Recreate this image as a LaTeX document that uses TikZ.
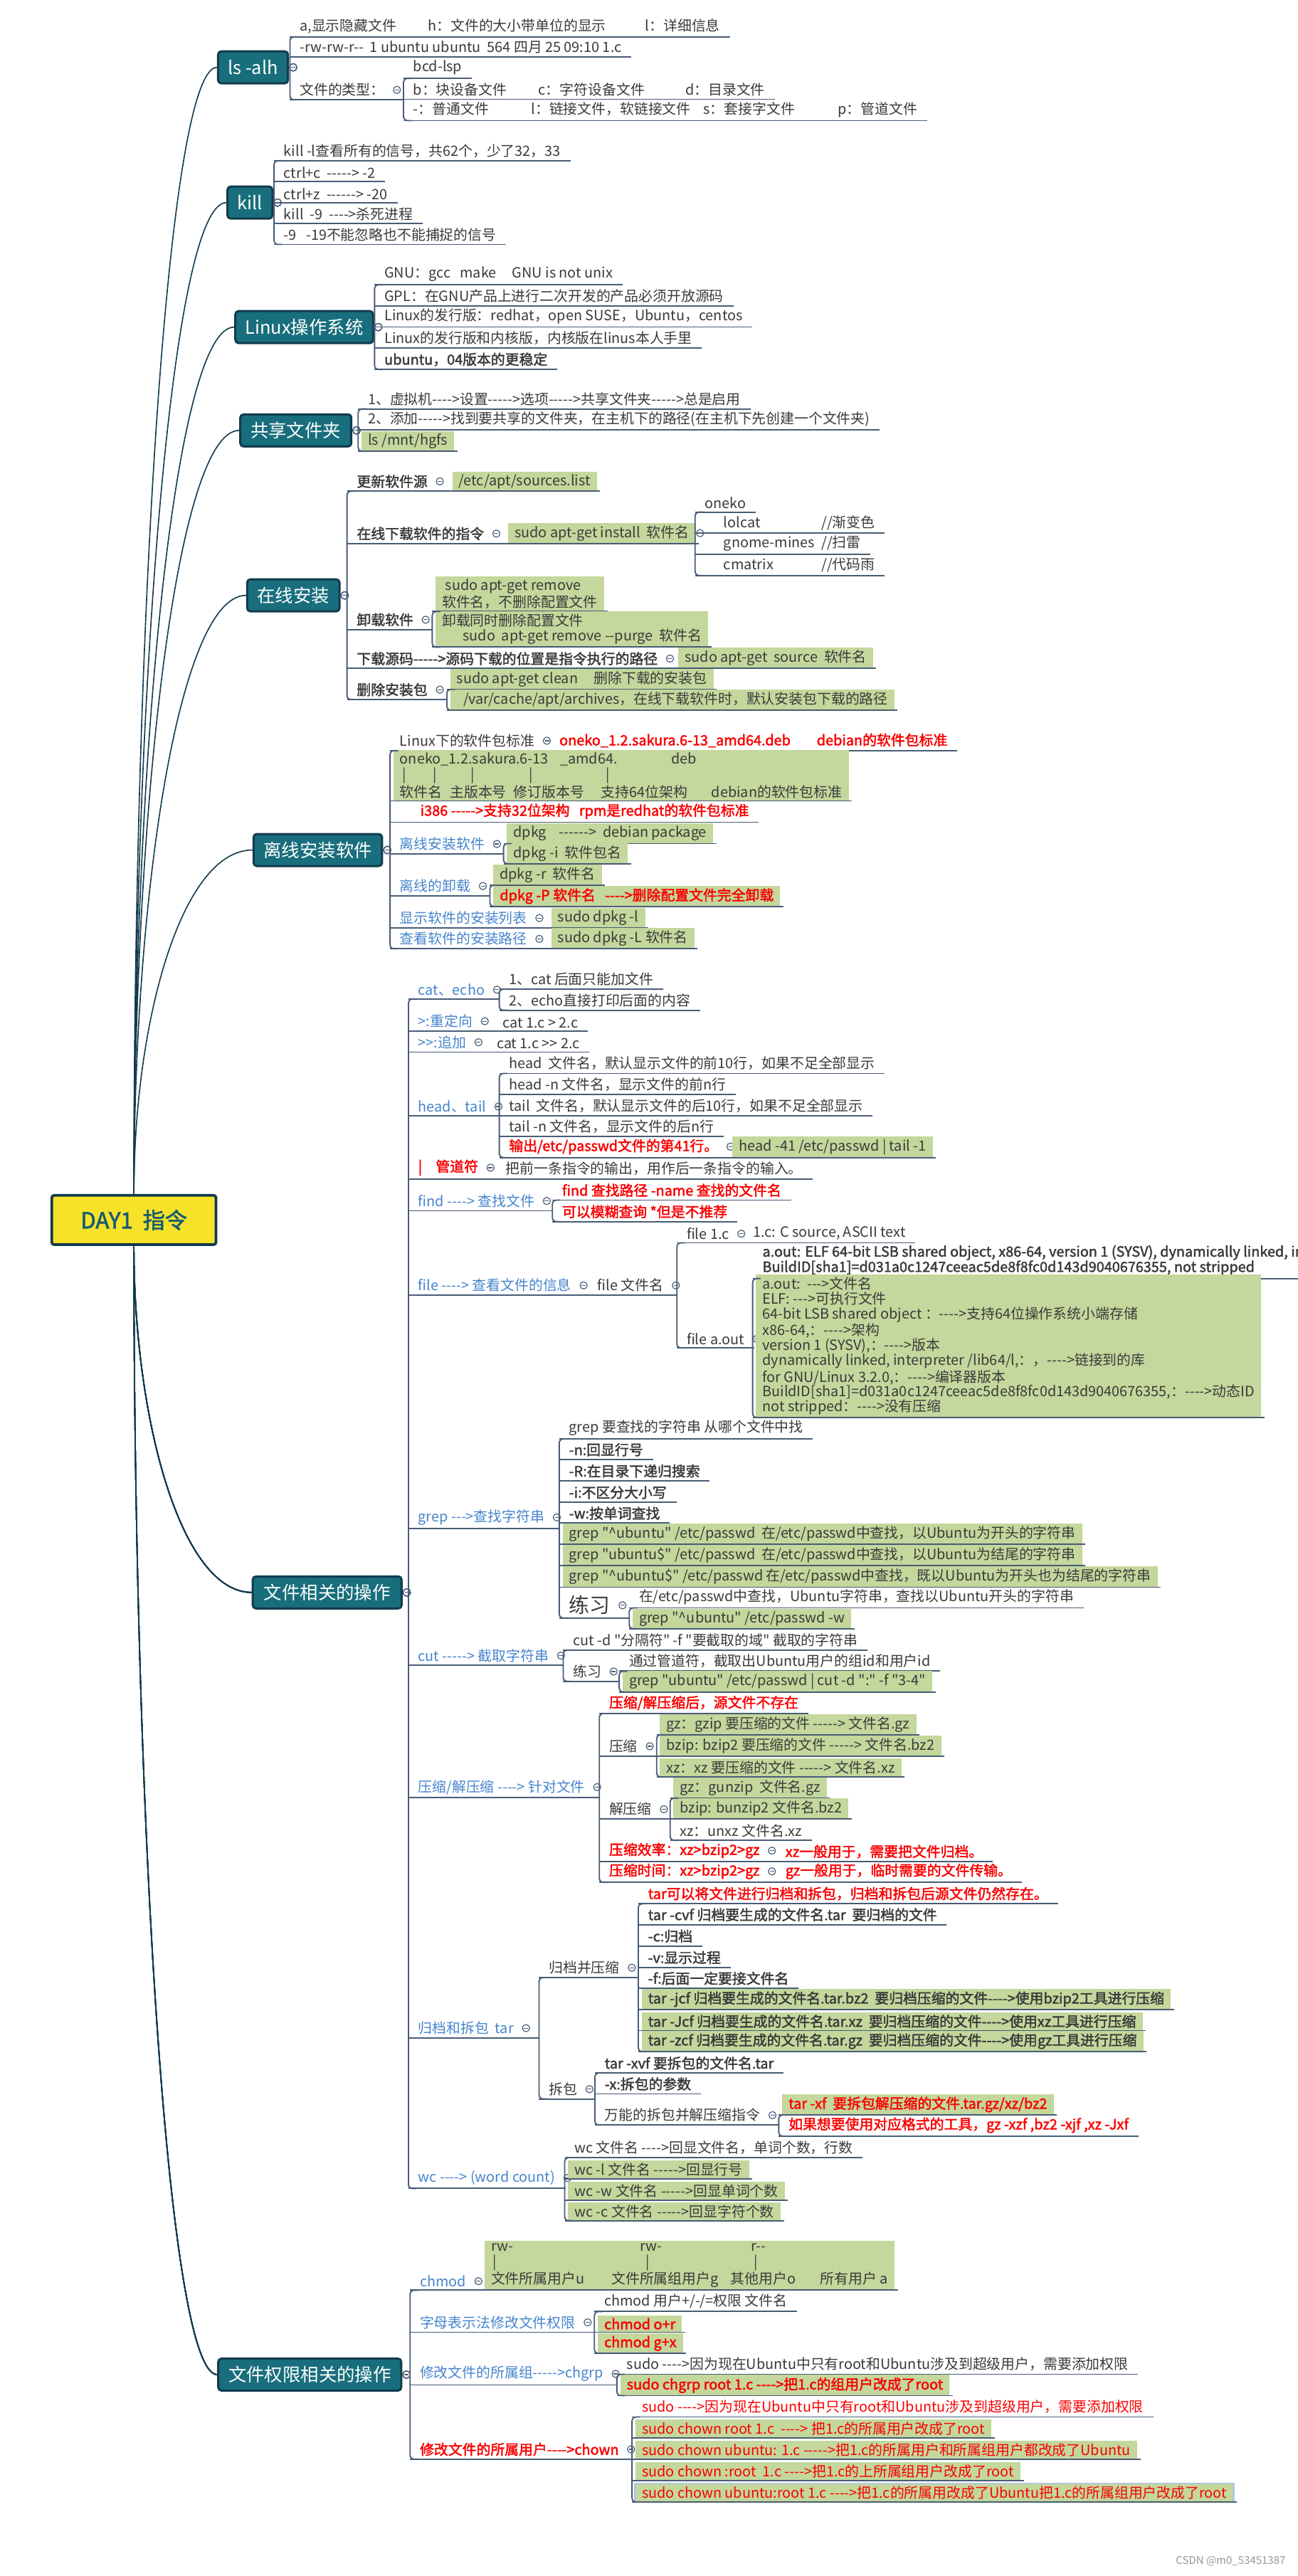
\documentclass[tikz,border=0pt]{standalone}
\usepackage{fontspec}
\usepackage{tikz}
\usetikzlibrary{positioning,calc}
\newfontfamily\cjk{Noto Sans CJK SC}[BoldFont={Noto Sans CJK SC}, BoldFeatures={FakeBold=2}]
\definecolor{topicfill}{RGB}{24,110,124}
\definecolor{topicline}{RGB}{18,58,78}
\definecolor{dayfill}{RGB}{246,226,40}
\definecolor{daytext}{RGB}{22,92,112}
\definecolor{linec}{RGB}{72,92,118}
\definecolor{txt}{RGB}{58,58,58}
\definecolor{subblue}{RGB}{70,132,205}
\definecolor{hlgreen}{RGB}{196,215,156}
\definecolor{redtxt}{RGB}{250,0,0}
\definecolor{selblue}{RGB}{178,198,222}
\definecolor{wmgray}{RGB}{150,150,150}

\newcommand\itemfont{\cjk\fontsize{8.6}{9.3}\selectfont}
\newcommand\spine[2]{\draw[spine] ([xshift=5pt]#1.south west) -- (#1.south west) -- (#2.south west) -- ([xshift=5pt]#2.south west);}
\newcommand\tie[2]{\draw[conn] (#1) -- (#1 -| #2.south west);}
\newcommand\branch[2]{\draw[branchline] (#1) .. controls ($(#1)!0.5!(#1|-#2.west)$) and ($(#2.west)!0.6!(#2.west-|#1)$) .. (#2.west);}

\tikzset{
  conn/.style={draw=linec, line width=0.8pt},
  spine/.style={conn, rounded corners=2.5pt},
  branchline/.style={draw=topicline, line width=0.7pt},
  day/.style={draw=topicline, line width=1.6pt, fill=dayfill, rounded corners=1.5pt, text=daytext,
    font=\cjk\fontsize{13.5}{15}\selectfont\bfseries, minimum width=100pt, minimum height=30pt},
  topic/.style={anchor=west, draw=topicline, line width=1.3pt, fill=topicfill, rounded corners=2pt,
    text=white, font=\cjk\fontsize{11}{12}\selectfont, inner xsep=6pt, minimum height=19.5pt},
  item/.style={anchor=south west, inner xsep=6pt, inner ysep=2pt, outer sep=0pt, text=txt, font=\itemfont,
    append after command={(\tikzlastnode.south west) edge[conn] (\tikzlastnode.south east)}},
  hl/.style={item, fill=hlgreen, inner xsep=4pt, inner ysep=1.6pt, outer xsep=2pt, outer ysep=0pt},
  multi/.style={align=left},
  sub/.style={text=subblue},
  strong/.style={font=\itemfont\bfseries},
  warn/.style={text=redtxt, font=\itemfont\bfseries},
  alert/.style={text=redtxt},
  fold/.style={circle, draw=linec, fill=white, line width=0.5pt, inner sep=0pt, minimum size=4.4pt,
    path picture={\draw[linec, line width=0.5pt] ([xshift=-1.3pt]path picture bounding box.center)
      -- ([xshift=1.3pt]path picture bounding box.center);}},
  wm/.style={text=wmgray, font=\cjk\fontsize{6.5}{7}\selectfont}
}

\begin{document}
\begin{tikzpicture}[x=1pt,y=-1pt]
  \useasboundingbox (0,0) rectangle (790,1568);
  \fill[white] (0,0) rectangle (790,1568);

  % Root and main topics
  \node[day] (day) at (81.5,742.6) {DAY1\ \ 指令};
  \node[topic, minimum width=39.1pt] (ls) at (132.1,41) {ls -alh};
  \node[topic, minimum width=23.4pt] (kill) at (137.8,123.3) {kill};
  \node[topic, minimum width=80.2pt] (os) at (142.6,199.1) {Linux操作系统};
  \node[topic, minimum width=67.6pt] (share) at (145.6,262) {共享文件夹};
  \node[topic, minimum width=56.2pt] (online) at (149.8,362.4) {在线安装};
  \node[topic, minimum width=78.2pt] (offline) at (153.7,517.4) {离线安装软件};
  \node[topic, minimum width=90.6pt] (file) at (153.2,969.3) {文件相关的操作};
  \node[topic, minimum width=111.4pt] (perm) at (132.2,1445.4) {文件权限相关的操作};

  \foreach \nm in {ls,kill,os,share,online,offline}
    \branch{day.north}{\nm}
  \foreach \nm in {file,perm}
    \branch{day.south}{\nm}
  \foreach \nm in {ls,kill,os,share,online,offline,file,perm}
    \node[fold] (\nm-f) at ([xshift=2.5pt]\nm.east) {};

  % ls -alh
  \node[item] (ls-a) at (176.5,22.4) {\makebox[78pt][l]{a,显示隐藏文件}\makebox[132.3pt][l]{h：文件的大小带单位的显示}l：详细信息};
  \node[item] (ls-rw) at (176.5,34.7) {-rw-rw-r--\ \ 1 ubuntu ubuntu\ \ 564 四月 25 09:10 1.c};
  \node[item] (ls-type) at (176.5,60.7) {文件的类型：};
  \node[fold] (ls-type-f) at ([xshift=1.5pt]ls-type.east) {};
  \node[item] (ls-bcd) at (245.6,47.7) {bcd-lsp};
  \node[item] (ls-b) at (245.6,60.4) {\makebox[76.2pt][l]{b：块设备文件}\makebox[89.4pt][l]{c：字符设备文件}d：目录文件};
  \node[item] (ls-p) at (245.6,73.4) {\makebox[71.8pt][l]{-：普通文件}\makebox[104.8pt][l]{l：链接文件，软链接文件}\makebox[81.9pt][l]{s：套接字文件}p：管道文件};
  \tie{ls-f}{ls-a}
  \spine{ls-a}{ls-type}
  \tie{ls-type.south east}{ls-bcd}
  \spine{ls-bcd}{ls-p}

  % kill
  \node[item] (kill-l) at (166.8,97.8) {kill -l查看所有的信号，共62个，少了32，33};
  \node[item] (kill-c) at (166.8,110.5) {ctrl+c\ \ -----> -2};
  \node[item] (kill-z) at (166.8,123.5) {ctrl+z\ \ ------> -20};
  \node[item] (kill-9) at (166.8,136.1) {kill\ \ -9\ \ ---->杀死进程};
  \node[item] (kill-19) at (166.8,148.8) {-9\ \ \ -19不能忽略也不能捕捉的信号};
  \tie{kill-f}{kill-l}
  \spine{kill-l}{kill-19}

  % Linux
  \node[item] (os-gnu) at (228,173.3) {GNU：gcc\ \ \ make\ \ \ \ \ GNU is not unix};
  \node[item] (os-gpl) at (228,186.3) {GPL：在GNU产品上进行二次开发的产品必须开放源码};
  \node[item] (os-dist) at (228,199) {Linux的发行版：redhat，open SUSE，Ubuntu，centos};
  \node[item] (os-kern) at (228,211.9) {Linux的发行版和内核版，内核版在linus本人手里};
  \node[item, strong] (os-ubu) at (228,224.9) {ubuntu，04版本的更稳定};
  \tie{os-f}{os-gnu}
  \spine{os-gnu}{os-ubu}

  % shared folder
  \node[item] (sh-1) at (218,248.9) {1、虚拟机---->设置----->选项----->共享文件夹----->总是启用};
  \node[item] (sh-2) at (218,261.8) {2、添加----->找到要共享的文件夹，在主机下的路径(在主机下先创建一个文件夹)};
  \node[hl] (sh-ls) at (218,274.7) {ls /mnt/hgfs};
  \tie{share-f}{sh-1}
  \spine{sh-1}{sh-ls}

  % online install
  \node[item, strong] (on-src) at (211.2,299) {更新软件源};
  \node[fold] (on-src-f) at ([xshift=1.5pt]on-src.east) {};
  \node[hl] (on-list) at (273.3,299) {/etc/apt/sources.list};
  \draw[conn] (on-src.south east) -- (on-list.south west);
  \node[item, strong] (on-get) at (211.2,330.8) {在线下载软件的指令};
  \node[fold] (on-get-f) at ([xshift=1.5pt]on-get.east) {};
  \node[hl] (on-inst) at (307.3,330.8) {sudo apt-get install\ \ 软件名};
  \draw[conn] (on-get.south east) -- (on-inst.south west);
  \node[fold] (on-inst-f) at ([xshift=0.7pt]on-inst.east) {};
  \node[item] (on-oneko) at (423.1,311.7) {oneko};
  \node[item] (on-lol) at (423.1,324.6) {\hspace*{11.4pt}\makebox[59.5pt][l]{lolcat}//渐变色};
  \node[item] (on-gnome) at (423.1,337.3) {\hspace*{11.4pt}\makebox[59.5pt][l]{gnome-mines}//扫雷};
  \node[item] (on-cmat) at (423.1,350.3) {\hspace*{11.4pt}\makebox[59.5pt][l]{cmatrix}//代码雨};
  \tie{on-inst.south east}{on-oneko}
  \spine{on-oneko}{on-cmat}
  \node[item, strong] (on-rm) at (211.2,383.2) {卸载软件};
  \node[fold] (on-rm-f) at ([xshift=1.5pt]on-rm.east) {};
  \node[hl, multi] (on-rm1) at (263.1,372.2) {\ sudo apt-get remove\\软件名，不删除配置文件};
  \node[hl, multi] (on-rm2) at (263.1,393.9) {卸载同时删除配置文件\\\hspace*{12.6pt}sudo\ \ apt-get remove --purge\ \ 软件名};
  \tie{on-rm.south east}{on-rm1}
  \spine{on-rm1}{on-rm2}
  \node[item, strong] (on-code) at (211.2,406.9) {下载源码----->源码下载的位置是指令执行的路径};
  \node[fold] (on-code-f) at ([xshift=1.5pt]on-code.east) {};
  \node[hl] (on-source) at (410.9,406.9) {sudo apt-get\ \ source\ \ 软件名};
  \draw[conn] (on-code.south east) -- (on-source.south west);
  \node[item, strong] (on-del) at (211.2,425.8) {删除安装包};
  \node[fold] (on-del-f) at ([xshift=1.5pt]on-del.east) {};
  \node[hl] (on-clean) at (272,419.6) {sudo apt-get clean\ \ \ \ \ 删除下载的安装包};
  \node[hl] (on-cache) at (272,432.3) {\hspace*{4pt}/var/cache/apt/archives，在线下载软件时，默认安装包下载的路径};
  \tie{on-del.south east}{on-clean}
  \spine{on-clean}{on-cache}
  \tie{online-f}{on-src}
  \spine{on-src}{on-del}

  % offline install
  \node[item] (off-std) at (237.4,456.9) {Linux下的软件包标准};
  \node[fold] (off-std-f) at ([xshift=1.5pt]off-std.east) {};
  \node[item, warn] (off-deb) at (334.5,456.9) {oneko\_1.2.sakura.6-13\_amd64.deb\hspace{16pt}debian的软件包标准};
  \draw[conn] (off-std.south east) -- (off-deb.south west);
  \node[hl, multi] (off-name) at (237.4,487.5) {\makebox[97.6pt][l]{oneko\_1.2.sakura.6-13}\makebox[67.7pt][l]{\_amd64.}deb\\
    \hspace*{1.5pt}\makebox[18.5pt][l]{|}\makebox[23.2pt][l]{|}\makebox[35.4pt][l]{|}\makebox[46.7pt][l]{|}|\\
    \makebox[30.5pt][l]{软件名}\makebox[38.7pt][l]{主版本号}\makebox[53.3pt][l]{修订版本号}\makebox[67.2pt][l]{支持64位架构}debian的软件包标准};
  \node[item, warn] (off-rpm) at (237.4,500.5) {\hspace*{12.5pt}i386 ----->支持32位架构\ \ \ rpm是redhat的软件包标准};
  \node[item, sub] (off-inst) at (237.4,519.7) {离线安装软件};
  \node[fold] (off-inst-f) at ([xshift=1.5pt]off-inst.east) {};
  \node[hl] (off-dpkg) at (306.5,513.5) {dpkg\ \ \ \ ------>\ \ debian package};
  \node[hl] (off-dpkgi) at (306.5,525.8) {dpkg -i\ \ 软件包名};
  \tie{off-inst.south east}{off-dpkg}
  \spine{off-dpkg}{off-dpkgi}
  \node[item, sub] (off-rm) at (237.4,545.3) {离线的卸载};
  \node[fold] (off-rm-f) at ([xshift=1.5pt]off-rm.east) {};
  \node[hl] (off-dpkgr) at (298.2,538.8) {dpkg -r\ \ 软件名};
  \node[hl, warn] (off-dpkgP) at (298.2,551.8) {dpkg -P 软件名\ \ \ ---->删除配置文件完全卸载};
  \tie{off-rm.south east}{off-dpkgr}
  \spine{off-dpkgr}{off-dpkgP}
  \node[item, sub] (off-list) at (237.4,564.8) {显示软件的安装列表};
  \node[fold] (off-list-f) at ([xshift=1.5pt]off-list.east) {};
  \node[hl] (off-dpkgl) at (333.5,564.8) {sudo dpkg -l};
  \draw[conn] (off-list.south east) -- (off-dpkgl.south west);
  \node[item, sub] (off-path) at (237.4,577.5) {查看软件的安装路径};
  \node[fold] (off-path-f) at ([xshift=1.5pt]off-path.east) {};
  \node[hl] (off-dpkgL) at (333.5,577.5) {sudo dpkg -L 软件名};
  \draw[conn] (off-path.south east) -- (off-dpkgL.south west);
  \tie{offline-f}{off-std}
  \spine{off-std}{off-path}

  % file operations
  \node[item, sub] (fo-cat) at (248.6,608.1) {cat、echo};
  \node[fold] (fo-cat-f) at ([xshift=1.5pt]fo-cat.east) {};
  \node[item] (fo-cat1) at (303.9,602.1) {1、cat 后面只能加文件};
  \node[item] (fo-cat2) at (303.9,614.9) {2、echo直接打印后面的内容};
  \tie{fo-cat.south east}{fo-cat1}
  \spine{fo-cat1}{fo-cat2}
  \node[item, sub] (fo-redir) at (248.6,627.6) {>:重定向};
  \node[fold] (fo-redir-f) at ([xshift=1.5pt]fo-redir.east) {};
  \node[item] (fo-redir1) at (300.1,627.6) {cat 1.c > 2.c};
  \draw[conn] (fo-redir.south east) -- (fo-redir1.south west);
  \node[item, sub] (fo-app) at (248.6,640.4) {>>:追加};
  \node[fold] (fo-app-f) at ([xshift=1.5pt]fo-app.east) {};
  \node[item] (fo-app1) at (296.4,640.4) {cat 1.c >> 2.c};
  \draw[conn] (fo-app.south east) -- (fo-app1.south west);
  \node[item, sub] (fo-ht) at (248.6,679.2) {head、tail};
  \node[fold] (fo-ht-f) at ([xshift=1.5pt]fo-ht.east) {};
  \node[item] (fo-ht1) at (303.9,653.4) {head\ \ 文件名，默认显示文件的前10行，如果不足全部显示};
  \node[item] (fo-ht2) at (303.9,666.2) {head -n 文件名，显示文件的前n行};
  \node[item] (fo-ht3) at (303.9,679.2) {tail\ \ 文件名，默认显示文件的后10行，如果不足全部显示};
  \node[item] (fo-ht4) at (303.9,691.9) {tail -n 文件名，显示文件的后n行};
  \node[item, warn] (fo-ht5) at (303.9,704.6) {输出/etc/passwd文件的第41行。};
  \node[fold] (fo-ht5-f) at ([xshift=1.5pt]fo-ht5.east) {};
  \node[hl] (fo-ht6) at (443.9,704.6) {head -41 /etc/passwd | tail -1};
  \draw[conn] (fo-ht5.south east) -- (fo-ht6.south west);
  \tie{fo-ht.south east}{fo-ht1}
  \spine{fo-ht1}{fo-ht5}
  \node[item, warn] (fo-pipe) at (248.6,717.6) {\makebox[10.7pt][l]{|}管道符};
  \node[fold] (fo-pipe-f) at ([xshift=1.5pt]fo-pipe.east) {};
  \node[item] (fo-pipe1) at (301.9,717.6) {把前一条指令的输出，用作后一条指令的输入。};
  \draw[conn] (fo-pipe.south east) -- (fo-pipe1.south west);
  \node[item, sub] (fo-find) at (248.6,737) {find ----> 查找文件};
  \node[fold] (fo-find-f) at ([xshift=1.5pt]fo-find.east) {};
  \node[item, warn] (fo-find1) at (336.2,730.5) {find 查找路径 -name 查找的文件名};
  \node[item, warn] (fo-find2) at (336.2,743.6) {可以模糊查询 *但是不推荐};
  \tie{fo-find.south east}{fo-find1}
  \spine{fo-find1}{fo-find2}
  \node[item, sub] (fo-file) at (248.6,788.4) {file ----> 查看文件的信息};
  \node[fold] (fo-file-f) at ([xshift=1.5pt]fo-file.east) {};
  \node[item] (fo-fname) at (357.8,788.4) {file 文件名};
  \draw[conn] (fo-file.south east) -- (fo-fname.south west);
  \node[fold] (fo-fname-f) at ([xshift=1.5pt]fo-fname.east) {};
  \node[item] (fo-f1) at (412,756.5) {file 1.c};
  \node[fold] (fo-f1-f) at ([xshift=1.5pt]fo-f1.east) {};
  \node[item] (fo-f1r) at (452.5,756.5) {1.c: C source, ASCII text};
  \draw[conn] (fo-f1.south east) -- (fo-f1r.south west);
  \node[item] (fo-f2) at (412,820.5) {file a.out};
  \node[fold] (fo-f2-f) at ([xshift=1.5pt]fo-f2.east) {};
  \node[item, strong, multi] (fo-elf) at (458.1,778.2) {a.out: ELF 64-bit LSB shared object, x86-64, version 1 (SYSV), dynamically linked, interpreter\\
    BuildID[sha1]=d031a0c1247ceeac5de8f8fc0d143d9040676355, not stripped};
  \node[hl, multi, font=\cjk\fontsize{8.6}{9}\selectfont] (fo-elfx) at (458.1,862.8) {a.out:\ \ --->文件名\\
    ELF: --->可执行文件\\
    64-bit LSB shared object ：---->支持64位操作系统小端存储\\
    x86-64,：---->架构\\
    version 1 (SYSV),：---->版本\\
    dynamically linked, interpreter /lib64/l,：，---->链接到的库\\
    for GNU/Linux 3.2.0,：---->编译器版本\\
    BuildID[sha1]=d031a0c1247ceeac5de8f8fc0d143d9040676355,：---->动态ID\\
    not stripped：---->没有压缩};
  \tie{fo-f2.south east}{fo-elf}
  \spine{fo-elf}{fo-elfx}
  \tie{fo-fname.south east}{fo-f1}
  \spine{fo-f1}{fo-f2}
  \node[item, sub] (fo-grep) at (248.6,930.3) {grep --->查找字符串};
  \node[fold] (fo-grep-f) at ([xshift=1.5pt]fo-grep.east) {};
  \node[item] (fo-g0) at (340.4,875.8) {grep 要查找的字符串 从哪个文件中找};
  \node[item, strong] (fo-gn) at (340.4,888.4) {-n:回显行号};
  \node[item, strong] (fo-gR) at (340.4,901.4) {-R:在目录下递归搜索};
  \node[item, strong] (fo-gi) at (340.4,914.4) {-i:不区分大小写};
  \node[item, strong] (fo-gw) at (340.4,927.1) {-w:按单词查找};
  \node[hl] (fo-g1) at (340.4,940.1) {grep "\textasciicircum{}ubuntu" /etc/passwd\ \ 在/etc/passwd中查找，以Ubuntu为开头的字符串};
  \node[hl] (fo-g2) at (340.4,953.1) {grep "ubuntu\$" /etc/passwd\ \ 在/etc/passwd中查找，以Ubuntu为结尾的字符串};
  \node[hl] (fo-g3) at (340.4,966.1) {grep "\textasciicircum{}ubuntu\$" /etc/passwd 在/etc/passwd中查找，既以Ubuntu为开头也为结尾的字符串};
  \node[item, font=\cjk\fontsize{12.5}{13}\selectfont] (fo-gx) at (340.4,984.9) {练习};
  \node[fold] (fo-gx-f) at ([xshift=1.5pt]fo-gx.east) {};
  \node[item] (fo-gx1) at (383,978.7) {在/etc/passwd中查找，Ubuntu字符串，查找以Ubuntu开头的字符串};
  \node[hl] (fo-gx2) at (383,991.4) {grep "\textasciicircum{}ubuntu" /etc/passwd -w};
  \tie{fo-grep.south east}{fo-g0}
  \spine{fo-g0}{fo-gx}
  \tie{fo-gx.south east}{fo-gx1}
  \spine{fo-gx1}{fo-gx2}
  \node[item, sub] (fo-cut) at (248.6,1013.7) {cut -----> 截取字符串};
  \node[fold] (fo-cut-f) at ([xshift=1.5pt]fo-cut.east) {};
  \node[item] (fo-c0) at (342.8,1004.4) {cut -d "分隔符" -f "要截取的域" 截取的字符串};
  \node[item] (fo-cx) at (342.8,1023.4) {练习};
  \node[fold] (fo-cx-f) at ([xshift=1.5pt]fo-cx.east) {};
  \node[item] (fo-cx1) at (376.9,1017.2) {通过管道符，截取出Ubuntu用户的组id和用户id};
  \node[hl] (fo-cx2) at (376.9,1029.9) {grep "ubuntu" /etc/passwd | cut -d ":" -f "3-4"};
  \tie{fo-cut.south east}{fo-c0}
  \spine{fo-c0}{fo-cx}
  \tie{fo-cx.south east}{fo-cx1}
  \spine{fo-cx1}{fo-cx2}
  \node[item, sub] (fo-zip) at (248.6,1094.2) {压缩/解压缩 ----> 针对文件};
  \node[fold] (fo-zip-f) at ([xshift=1.5pt]fo-zip.east) {};
  \node[item, warn] (fo-z0) at (364.8,1043) {压缩/解压缩后，源文件不存在};
  \node[item] (fo-zc) at (364.8,1068.9) {压缩};
  \node[fold] (fo-zc-f) at ([xshift=1.5pt]fo-zc.east) {};
  \node[hl] (fo-zc1) at (399.7,1055.9) {gz：gzip 要压缩的文件 -----> 文件名.gz};
  \node[hl] (fo-zc2) at (399.7,1068.9) {bzip: bzip2 要压缩的文件 -----> 文件名.bz2};
  \node[hl] (fo-zc3) at (399.7,1081.6) {xz：xz 要压缩的文件 -----> 文件名.xz};
  \tie{fo-zc.south east}{fo-zc1}
  \spine{fo-zc1}{fo-zc3}
  \node[item] (fo-zd) at (364.8,1107.2) {解压缩};
  \node[fold] (fo-zd-f) at ([xshift=1.5pt]fo-zd.east) {};
  \node[hl] (fo-zd1) at (407.9,1094.5) {gz：gunzip\ \ 文件名.gz};
  \node[hl] (fo-zd2) at (407.9,1107.2) {bzip: bunzip2 文件名.bz2};
  \node[item] (fo-zd3) at (407.9,1120.2) {xz：unxz 文件名.xz};
  \tie{fo-zd.south east}{fo-zd1}
  \spine{fo-zd1}{fo-zd3}
  \node[item, warn] (fo-ze) at (364.8,1133.2) {压缩效率：xz>bzip2>gz};
  \node[fold] (fo-ze-f) at ([xshift=1.5pt]fo-ze.east) {};
  \node[item, warn] (fo-ze1) at (472.1,1133.2) {xz一般用于，需要把文件归档。};
  \draw[conn] (fo-ze.south east) -- (fo-ze1.south west);
  \node[item, warn] (fo-zt) at (364.8,1145.8) {压缩时间：xz>bzip2>gz};
  \node[fold] (fo-zt-f) at ([xshift=1.5pt]fo-zt.east) {};
  \node[item, warn] (fo-zt1) at (472.1,1145.8) {gz一般用于，临时需要的文件传输。};
  \draw[conn] (fo-zt.south east) -- (fo-zt1.south west);
  \tie{fo-zip.south east}{fo-z0}
  \spine{fo-z0}{fo-zt}
  \node[item, sub] (fo-tar) at (248.6,1240.5) {归档和拆包\ \ tar};
  \node[fold] (fo-tar-f) at ([xshift=1.5pt]fo-tar.east) {};
  \node[item] (fo-ta) at (328.1,1203.7) {归档并压缩};
  \node[fold] (fo-ta-f) at ([xshift=1.5pt]fo-ta.east) {};
  \node[item, warn] (fo-ta0) at (388.5,1158.8) {tar可以将文件进行归档和拆包，归档和拆包后源文件仍然存在。};
  \node[item, strong] (fo-ta1) at (388.5,1171.5) {tar -cvf 归档要生成的文件名.tar\ \ 要归档的文件};
  \node[item, strong] (fo-ta2) at (388.5,1184.5) {-c:归档};
  \node[item, strong] (fo-ta3) at (388.5,1197.5) {-v:显示过程};
  \node[item, strong] (fo-ta4) at (388.5,1210.2) {-f:后面一定要接文件名};
  \node[hl, strong] (fo-ta5) at (388.5,1223.2) {tar -jcf 归档要生成的文件名.tar.bz2\ \ 要归档压缩的文件---->使用bzip2工具进行压缩};
  \node[hl, strong] (fo-ta6) at (388.5,1236) {tar -Jcf 归档要生成的文件名.tar.xz\ \ 要归档压缩的文件---->使用xz工具进行压缩};
  \node[hl, strong] (fo-ta7) at (388.5,1248.8) {tar -zcf 归档要生成的文件名.tar.gz\ \ 要归档压缩的文件---->使用gz工具进行压缩};
  \tie{fo-ta.south east}{fo-ta0}
  \spine{fo-ta0}{fo-ta7}
  \node[item] (fo-tb) at (328.1,1277.6) {拆包};
  \node[fold] (fo-tb-f) at ([xshift=1.5pt]fo-tb.east) {};
  \node[item, strong] (fo-tb1) at (362.1,1261.8) {tar -xvf 要拆包的文件名.tar};
  \node[item, strong] (fo-tb2) at (362.1,1274.5) {-x:拆包的参数};
  \node[item] (fo-tb3) at (362.1,1293.5) {万能的拆包并解压缩指令};
  \node[fold] (fo-tb3-f) at ([xshift=1.5pt]fo-tb3.east) {};
  \node[hl, warn] (fo-tb3a) at (474,1287.3) {tar -xf\ \ 要拆包解压缩的文件.tar.gz/xz/bz2};
  \node[item, warn] (fo-tb3b) at (474,1300.3) {如果想要使用对应格式的工具，gz -xzf ,bz2 -xjf ,xz -Jxf};
  \tie{fo-tb3.south east}{fo-tb3a}
  \spine{fo-tb3a}{fo-tb3b}
  \tie{fo-tb.south east}{fo-tb1}
  \spine{fo-tb1}{fo-tb3}
  \tie{fo-tar.south east}{fo-ta}
  \spine{fo-ta}{fo-tb}
  \node[item, sub] (fo-wc) at (248.6,1332.1) {wc ----> (word count)};
  \node[fold] (fo-wc-f) at ([xshift=1.5pt]fo-wc.east) {};
  \node[item] (fo-w0) at (343.7,1313.3) {wc 文件名 ---->回显文件名，单词个数，行数};
  \node[hl] (fo-w1) at (343.7,1326.3) {wc -l 文件名 ----->回显行号};
  \node[hl] (fo-w2) at (343.7,1339.1) {wc -w 文件名 ----->回显单词个数};
  \node[hl] (fo-w3) at (343.7,1351.7) {wc -c 文件名 ----->回显字符个数};
  \tie{fo-wc.south east}{fo-w0}
  \spine{fo-w0}{fo-w3}
  \tie{file-f}{fo-cat}
  \spine{fo-cat}{fo-wc}

  % permissions
  \node[item, sub] (pm-chmod) at (249.6,1394) {chmod};
  \node[fold] (pm-chmod-f) at ([xshift=1.5pt]pm-chmod.east) {};
  \node[hl, multi] (pm-rwx) at (292.9,1394) {\makebox[90.6pt][l]{rw-}\makebox[67.8pt][l]{rw-}r--\\
    \hspace*{1pt}\makebox[93.3pt][l]{|}\makebox[65.6pt][l]{|}|\\
    \makebox[73.3pt][l]{文件所属用户u}\makebox[72.6pt][l]{文件所属组用户g}\makebox[54.5pt][l]{其他用户o}所有用户 a};
  \draw[conn] (pm-chmod.south east) -- (pm-rwx.south west);
  \node[item, sub] (pm-sym) at (249.6,1419.6) {字母表示法修改文件权限};
  \node[fold] (pm-sym-f) at ([xshift=1.5pt]pm-sym.east) {};
  \node[item] (pm-sym0) at (361.8,1407) {chmod 用户+/-/=权限 文件名};
  \node[hl, warn] (pm-sym1) at (361.8,1419.6) {chmod o+r};
  \node[hl, warn] (pm-sym2) at (361.8,1432.5) {chmod g+x};
  \tie{pm-sym.south east}{pm-sym0}
  \spine{pm-sym0}{pm-sym2}
  \node[item, sub] (pm-grp) at (249.6,1451.7) {修改文件的所属组----->chgrp};
  \node[fold] (pm-grp-f) at ([xshift=1.5pt]pm-grp.east) {};
  \node[item] (pm-grp0) at (375.5,1445.2) {sudo ---->因为现在Ubuntu中只有root和Ubuntu涉及到超级用户，需要添加权限};
  \node[hl, warn] (pm-grp1) at (375.5,1458.2) {sudo chgrp root 1.c ---->把1.c的组用户改成了root};
  \tie{pm-grp.south east}{pm-grp0}
  \spine{pm-grp0}{pm-grp1}
  \node[item, warn] (pm-own) at (249.6,1496.9) {修改文件的所属用户---->chown};
  \node[fold] (pm-own-f) at ([xshift=1.5pt]pm-own.east) {};
  \node[item, alert] (pm-own0) at (384.7,1471.2) {sudo ---->因为现在Ubuntu中只有root和Ubuntu涉及到超级用户，需要添加权限};
  \node[hl, alert] (pm-own1) at (384.7,1484) {sudo chown root 1.c\ \ ----> 把1.c的所属用户改成了root};
  \node[hl, alert] (pm-own2) at (384.7,1496.8) {sudo chown ubuntu: 1.c ----->把1.c的所属用户和所属组用户都改成了Ubuntu};
  \node[hl, alert] (pm-own3) at (384.7,1509.8) {sudo chown :root\ \ 1.c ---->把1.c的上所属组用户改成了root};
  \node[hl, alert, draw=selblue, line width=1.2pt] (pm-own4) at (384.7,1522.9) {sudo chown ubuntu:root 1.c ---->把1.c的所属用改成了Ubuntu把1.c的所属组用户改成了root};
  \tie{pm-own.south east}{pm-own0}
  \spine{pm-own0}{pm-own4}
  \tie{perm-f}{pm-chmod}
  \spine{pm-chmod}{pm-own}

  % watermark
  \node[wm, anchor=east] (mark) at (786,1559) {CSDN @m0\_53451387};
\end{tikzpicture}
\end{document}
